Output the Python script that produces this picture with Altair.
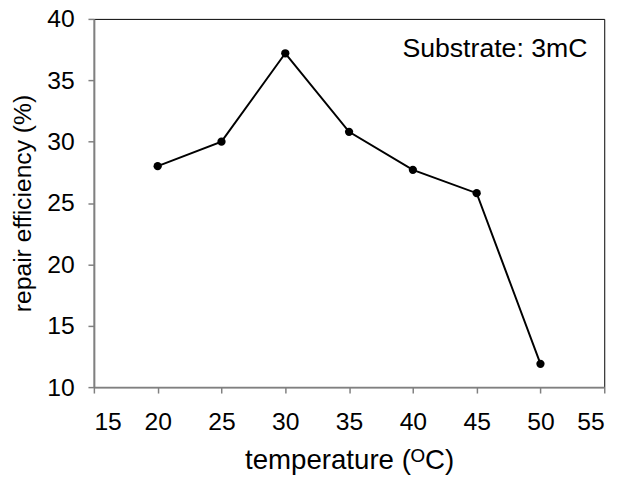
import altair as alt
import pandas as pd

temperature = [20, 25, 30, 35, 40, 45, 50]
efficiency = [28.0, 30.0, 37.2, 30.8, 27.7, 25.8, 11.9]
x_ticks = [15, 20, 25, 30, 35, 40, 45, 50, 55]
y_ticks = [10, 15, 20, 25, 30, 35, 40]
note = ["Substrate: 3mC"]

df = pd.DataFrame({"temperature": temperature, "efficiency": efficiency})
FONT = "Liberation Sans"

x = alt.X("temperature:Q", scale=alt.Scale(domain=[15, 55], nice=False, zero=False),
          axis=alt.Axis(values=x_ticks, title="temperature (ᴼC)", grid=False,
                        domainColor="#808080", domainWidth=2, tickColor="#808080",
                        tickWidth=1.5, tickSize=6, labelFontSize=25, titleFontSize=28,
                        labelPadding=17, titlePadding=12, labelColor="black",
                        titleColor="black", titleFontWeight="normal", labelFont=FONT,
                        titleFont=FONT))
y = alt.Y("efficiency:Q", scale=alt.Scale(domain=[10, 40], nice=False, zero=False),
          axis=alt.Axis(values=y_ticks, title="repair efficiency (%)", grid=False,
                        domainColor="#808080", domainWidth=2, tickColor="#808080",
                        tickWidth=1.5, tickSize=6, labelFontSize=25, titleFontSize=25,
                        labelPadding=14, titlePadding=11, labelColor="black",
                        titleColor="black", titleFontWeight="normal", labelFont=FONT,
                        titleFont=FONT))

line = alt.Chart(df).mark_line(color="black", strokeWidth=2).encode(x=x, y=y)
pts = alt.Chart(df).mark_circle(color="black", size=70, opacity=1).encode(x=x, y=y)
txt = alt.Chart(pd.DataFrame({"t": note})).mark_text(
    align="right", baseline="middle", fontSize=27, font=FONT, color="black"
).encode(text="t:N", x=alt.value(500), y=alt.value(31))

chart = (line + pts + txt).properties(
    width=517, height=373,
    autosize=alt.AutoSizeParams(type="none"),
    padding={"left": 87, "top": 8, "right": 20, "bottom": 88},
).configure_view(stroke="black", strokeWidth=1)

chart.save("out.html", embed_options={"renderer": "svg", "actions": False})
